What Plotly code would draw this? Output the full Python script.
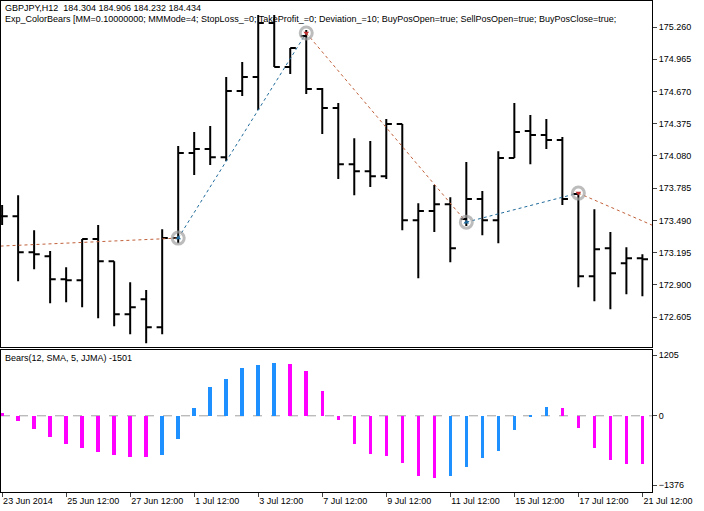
import plotly.graph_objects as go

opens  = [173.529,173.529,173.199,173.163,172.952,172.943,173.319,173.117,172.632,172.769,
          172.513,173.328,174.106,174.143,174.069,174.674,174.802,175.297,174.894,175.178,
          174.692,174.518,174.005,173.941,173.895,174.372,173.492,173.575,173.639,173.502,
          173.685,173.492,174.060,174.308,174.271,174.225,173.731,172.980,173.236,173.099,173.144]
highs  = [173.630,173.721,173.401,173.209,173.062,173.319,173.447,173.117,172.925,172.852,
          173.410,174.170,174.298,174.353,174.802,174.939,175.370,175.370,175.068,175.233,
          174.701,174.564,174.243,174.216,174.417,174.372,173.648,173.813,173.703,174.024,
          173.758,174.124,174.564,174.454,174.417,174.253,173.740,173.593,173.383,173.245,173.181]
lows   = [173.447,172.934,173.044,172.732,172.742,172.696,172.595,172.522,172.449,172.366,
          172.449,173.282,173.905,173.996,174.033,174.628,174.500,174.894,174.830,174.646,
          174.280,173.868,173.721,173.795,173.868,173.401,172.961,173.383,173.108,173.438,
          173.355,173.282,174.060,174.005,174.143,173.630,172.879,172.751,172.677,172.815,172.797]
closes = [173.529,173.199,173.181,172.952,172.943,173.319,173.117,172.632,172.696,172.513,
          173.328,174.106,174.143,174.069,174.674,174.802,175.297,174.894,175.068,174.692,
          174.518,174.005,173.941,173.895,174.372,173.492,173.575,173.639,173.236,173.685,
          173.492,174.060,174.298,174.271,174.225,173.685,172.980,173.227,173.007,173.144,173.135]
bears = [60,-110,-270,-430,-565,-645,-730,-785,-825,-825,-785,-470,160,575,730,950,1010,1050,
         1030,895,495,-90,-565,-765,-810,-940,-1200,-1240,-1200,-1020,-845,-705,-290,-15,180,
         145,-250,-645,-880,-960,-960]
# trade path: entry/exit points (bar index, price) and edge points
trade_x = [-0.1, 11, 19, 29, 36, 40.6]
trade_y = [173.255, 173.328, 175.205, 173.474, 173.740, 173.447]
trade_col = ['#C0603A', '#1F6A9A', '#C0603A', '#1F6A9A', '#C0603A']
price_ticks = [175.260,174.965,174.670,174.375,174.080,173.785,173.490,173.195,172.900,172.605]
xtick_pos = [0,4,8,12,16,20,24,28,32,36,40]
xtick_lab = ['23 Jun 2014','25 Jun 12:00','27 Jun 12:00','1 Jul 12:00','3 Jul 12:00','7 Jul 12:00',
             '9 Jul 12:00','11 Jul 12:00','15 Jul 12:00','17 Jul 12:00','21 Jul 12:00']

idx = list(range(len(opens)))
fig = go.Figure()
fig.add_trace(go.Ohlc(x=idx, open=opens, high=highs, low=lows, close=closes,
                      increasing=dict(line=dict(color='black', width=2)),
                      decreasing=dict(line=dict(color='black', width=2)),
                      tickwidth=0.35, xaxis='x', yaxis='y', hoverinfo='skip'))
for i in range(len(trade_x)-1):
    fig.add_trace(go.Scatter(x=trade_x[i:i+2], y=trade_y[i:i+2], mode='lines',
                             line=dict(color=trade_col[i], width=1, dash='dot'),
                             xaxis='x', yaxis='y'))
fig.add_trace(go.Scatter(x=trade_x[1:5], y=trade_y[1:5], mode='markers',
                         marker=dict(symbol='circle-open', size=12, color='rgba(160,160,160,0.7)',
                                     line=dict(width=3)), xaxis='x', yaxis='y'))
fig.add_trace(go.Scatter(x=trade_x[1:5], y=trade_y[1:5], mode='markers',
                         marker=dict(symbol=['triangle-up','triangle-down','triangle-up','triangle-down'],
                                     size=5, color=['#1F6A9A','#C03030','#1F6A9A','#C03030']),
                         xaxis='x', yaxis='y'))
cols = ['#FF00FF' if i == 0 or bears[i] <= bears[i-1] else '#1E90FF' for i in idx]
fig.add_trace(go.Bar(x=idx, y=bears, marker=dict(color=cols, line=dict(width=0)), width=0.22,
                     xaxis='x2', yaxis='y2'))

xr = [-0.07, 40.6]
fig.update_layout(
    width=704, height=511, margin=dict(l=1, r=52, t=1, b=19),
    paper_bgcolor='white', plot_bgcolor='white', showlegend=False, bargap=0,
    font=dict(family='Liberation Sans', size=9, color='black'),
    xaxis=dict(domain=[0,1], range=xr, showticklabels=False, showgrid=False, zeroline=False,
               showline=True, mirror=True, linecolor='black', linewidth=1, anchor='y',
               rangeslider=dict(visible=False)),
    yaxis=dict(domain=[0.295,1], range=[172.330,175.498], side='right', tickvals=price_ticks,
               ticktext=[f'{v:.3f}' for v in price_ticks], ticks='outside', ticklen=4,
               showgrid=False, zeroline=False, showline=True, mirror=True, linecolor='black', anchor='x'),
    xaxis2=dict(domain=[0,1], range=xr, tickvals=xtick_pos, ticktext=xtick_lab, ticks='outside',
                ticklabelposition='outside right',
                ticklen=4, showgrid=False, zeroline=False, showline=True, mirror=True,
                linecolor='black', anchor='y2'),
    yaxis2=dict(domain=[0,0.289], range=[-1514,1305], side='right', tickvals=[1205,0,-1376],
                ticks='outside', ticklen=4, showgrid=False, zeroline=False, showline=True,
                mirror=True, linecolor='black', anchor='x2'),
    shapes=[dict(type='line', xref='x2', yref='y2', x0=xr[0], x1=xr[1], y0=0, y1=0,
                 line=dict(color='#A0A0A0', width=1, dash='dash'), layer='below')],
    annotations=[
        dict(xref='paper', yref='paper', x=0.003, y=1.0, xanchor='left', yanchor='top', showarrow=False,
             text='GBPJPY,H12  184.304 184.906 184.232 184.434', font=dict(size=9)),
        dict(xref='paper', yref='paper', x=0.003, y=0.978, xanchor='left', yanchor='top', showarrow=False,
             text='Exp_ColorBears [MM=0.10000000; MMMode=4; StopLoss_=0; TakeProfit_=0; Deviation_=10; BuyPosOpen=true; SellPosOpen=true; BuyPosClose=true;',
             font=dict(size=9)),
        dict(xref='paper', yref='paper', x=0.003, y=0.287, xanchor='left', yanchor='top', showarrow=False,
             text='Bears(12, SMA, 5, JJMA) -1501', font=dict(size=9)),
    ])
fig.write_html('out.html', config={'displayModeBar': False},
               post_script="document.body.style.margin='0';document.body.style.overflow='hidden';")
